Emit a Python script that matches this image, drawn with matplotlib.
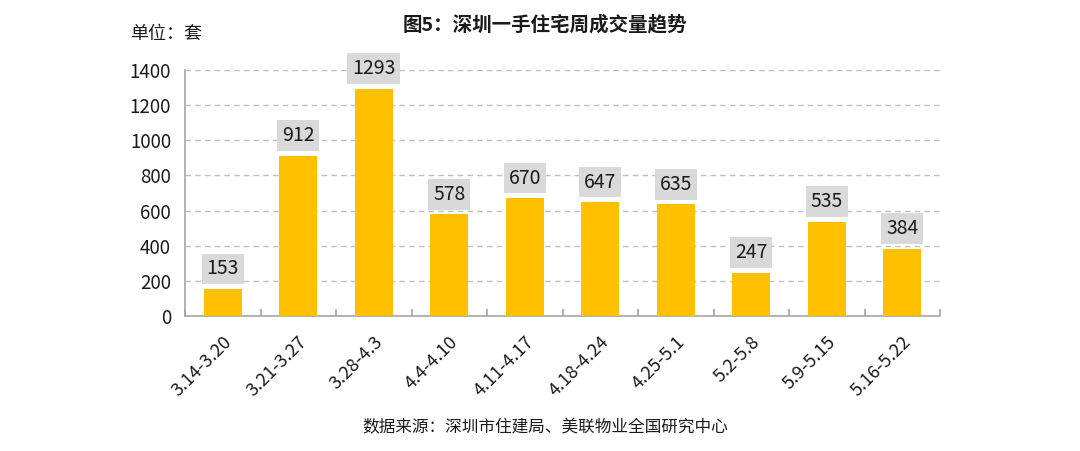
import matplotlib
matplotlib.use("Agg")
import matplotlib.pyplot as plt
import numpy as np

plt.rcParams['font.family'] = ['Noto Sans CJK SC', 'DejaVu Sans']

categories = ["3.14-3.20", "3.21-3.27", "3.28-4.3", "4.4-4.10", "4.11-4.17",
              "4.18-4.24", "4.25-5.1", "5.2-5.8", "5.9-5.15", "5.16-5.22"]
values = [153, 912, 1293, 578, 670, 647, 635, 247, 535, 384]
yticks = [0, 200, 400, 600, 800, 1000, 1200, 1400]

fig = plt.figure(figsize=(10.8, 4.51), dpi=100)
ax = fig.add_axes([185/1080, 1-316/451, 755/1080, 246/451])

x = np.arange(len(categories))
ax.bar(x, values, width=0.5, color='#FFC000', zorder=3)
ax.set_xlim(-0.5, len(categories) - 0.5)
ax.set_ylim(0, 1400)
ax.set_yticks(yticks)
ax.set_yticklabels([str(v) for v in yticks], fontsize=13.5, color='#1a1a1a')
ax.tick_params(axis='y', length=0, pad=10)
ax.set_xticks(x)
ax.set_xticklabels(categories, rotation=45, ha='right', rotation_mode='anchor',
                   fontsize=13, color='#1a1a1a')
ax.tick_params(axis='x', which='major', length=0, pad=12)
ax.set_xticks(np.arange(-0.5, len(categories)), minor=True)
ax.tick_params(axis='x', which='minor', direction='in', length=5, color='#a6a6a6', width=1.2)

for v in yticks[1:]:
    ax.axhline(v, color='#bfbfbf', linestyle=(0, (4, 3)), linewidth=1, zorder=1)

for s in ['top', 'right']:
    ax.spines[s].set_visible(False)
for s in ['left', 'bottom']:
    ax.spines[s].set_color('#a6a6a6')
    ax.spines[s].set_linewidth(1.2)

for xi, v in zip(x, values):
    ax.annotate(str(v), (xi, v), xytext=(0, 7), textcoords='offset points',
                ha='center', va='bottom', fontsize=14, color='#1a1a1a',
                bbox=dict(boxstyle='square,pad=0.25', fc='#d9d9d9', ec='none'),
                zorder=4)

fig.text(0.505, 0.945, '图5：深圳一手住宅周成交量趋势', fontsize=14, fontweight='bold',
         ha='center', va='center', color='#1a1a1a')
fig.text(0.12, 0.925, '单位：套', fontsize=13, ha='left', va='center', color='#1a1a1a')
fig.text(0.505, 0.052, '数据来源：深圳市住建局、美联物业全国研究中心', fontsize=12,
         ha='center', va='center', color='#1a1a1a')

fig.savefig('out.png', dpi=100)
